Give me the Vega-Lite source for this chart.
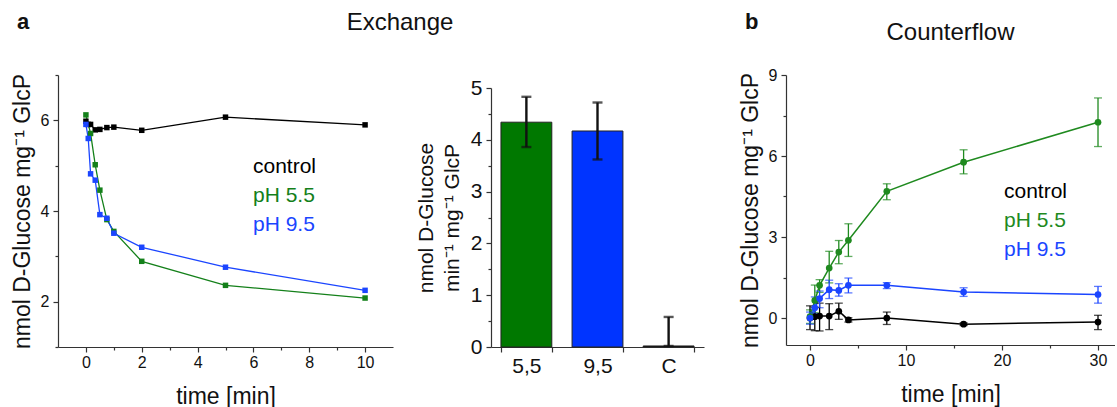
{
  "$schema": "https://vega.github.io/schema/vega-lite/v6.json",
  "autosize": {"type": "pad"},
  "padding": {"left": 11, "top": 10, "right": 0, "bottom": 0},
  "background": "white",
  "datasets": {
    "exchange": [
      {"series": "control", "t": 0, "v": 5.98},
      {"series": "control", "t": 0.083, "v": 5.91},
      {"series": "control", "t": 0.167, "v": 5.91},
      {"series": "control", "t": 0.333, "v": 5.79},
      {"series": "control", "t": 0.5, "v": 5.8},
      {"series": "control", "t": 0.75, "v": 5.84},
      {"series": "control", "t": 1, "v": 5.85},
      {"series": "control", "t": 2, "v": 5.78},
      {"series": "control", "t": 5, "v": 6.07},
      {"series": "control", "t": 10, "v": 5.9},
      {"series": "pH 5.5", "t": 0, "v": 6.12},
      {"series": "pH 5.5", "t": 0.167, "v": 5.71},
      {"series": "pH 5.5", "t": 0.333, "v": 5.02},
      {"series": "pH 5.5", "t": 0.5, "v": 4.46},
      {"series": "pH 5.5", "t": 0.75, "v": 3.81},
      {"series": "pH 5.5", "t": 1, "v": 3.55},
      {"series": "pH 5.5", "t": 2, "v": 2.89},
      {"series": "pH 5.5", "t": 5, "v": 2.36},
      {"series": "pH 5.5", "t": 10, "v": 2.08},
      {"series": "pH 9.5", "t": 0, "v": 5.91},
      {"series": "pH 9.5", "t": 0.083, "v": 5.6},
      {"series": "pH 9.5", "t": 0.167, "v": 4.82},
      {"series": "pH 9.5", "t": 0.333, "v": 4.68},
      {"series": "pH 9.5", "t": 0.5, "v": 3.92},
      {"series": "pH 9.5", "t": 0.75, "v": 3.84},
      {"series": "pH 9.5", "t": 1, "v": 3.51},
      {"series": "pH 9.5", "t": 2, "v": 3.2},
      {"series": "pH 9.5", "t": 5, "v": 2.76},
      {"series": "pH 9.5", "t": 10, "v": 2.25}
    ],
    "rates": [
      {"grp": "5,5", "rate": 4.34, "lo": 3.86, "hi": 4.83},
      {"grp": "9,5", "rate": 4.17, "lo": 3.62, "hi": 4.72},
      {"grp": "C", "rate": 0.02, "lo": 0.02, "hi": 0.58}
    ],
    "counterflow": [
      {"series": "control", "t": 0, "v": 0.0, "lo": -0.43, "hi": 0.45},
      {"series": "control", "t": 0.5, "v": 0.05, "lo": -0.47, "hi": 0.4},
      {"series": "control", "t": 1, "v": 0.07, "lo": -0.48, "hi": 0.55},
      {"series": "control", "t": 2, "v": 0.07, "lo": -0.43, "hi": 0.53},
      {"series": "control", "t": 3, "v": 0.25, "lo": -0.05, "hi": 0.55},
      {"series": "control", "t": 4, "v": -0.07, "lo": -0.15, "hi": 0.01},
      {"series": "control", "t": 8, "v": 0.0, "lo": -0.24, "hi": 0.22},
      {"series": "control", "t": 16, "v": -0.23, "lo": -0.28, "hi": -0.18},
      {"series": "control", "t": 30, "v": -0.15, "lo": -0.43, "hi": 0.1},
      {"series": "pH 5.5", "t": 0, "v": 0.05, "lo": -0.2, "hi": 0.3},
      {"series": "pH 5.5", "t": 0.5, "v": 0.65, "lo": 0.2, "hi": 1.22},
      {"series": "pH 5.5", "t": 1, "v": 1.21, "lo": 0.95, "hi": 1.42},
      {"series": "pH 5.5", "t": 2, "v": 1.85, "lo": 1.3, "hi": 2.47},
      {"series": "pH 5.5", "t": 3, "v": 2.44, "lo": 2.01, "hi": 2.87},
      {"series": "pH 5.5", "t": 4, "v": 2.88, "lo": 2.28, "hi": 3.49},
      {"series": "pH 5.5", "t": 8, "v": 4.69, "lo": 4.38, "hi": 4.97},
      {"series": "pH 5.5", "t": 16, "v": 5.77, "lo": 5.34, "hi": 6.23},
      {"series": "pH 5.5", "t": 30, "v": 7.25, "lo": 6.35, "hi": 8.15},
      {"series": "pH 9.5", "t": 0, "v": 0.0, "lo": -0.23, "hi": 0.22},
      {"series": "pH 9.5", "t": 0.5, "v": 0.38, "lo": 0.16, "hi": 0.78},
      {"series": "pH 9.5", "t": 1, "v": 0.72, "lo": 0.38, "hi": 1.0},
      {"series": "pH 9.5", "t": 2, "v": 1.05, "lo": 0.72, "hi": 1.4},
      {"series": "pH 9.5", "t": 3, "v": 1.02, "lo": 0.81, "hi": 1.27},
      {"series": "pH 9.5", "t": 4, "v": 1.21, "lo": 0.93, "hi": 1.48},
      {"series": "pH 9.5", "t": 8, "v": 1.21, "lo": 1.09, "hi": 1.31},
      {"series": "pH 9.5", "t": 16, "v": 0.96, "lo": 0.8, "hi": 1.12},
      {"series": "pH 9.5", "t": 30, "v": 0.87, "lo": 0.55, "hi": 1.17}
    ]
  },
  "title": {"text": "a", "anchor": "start", "frame": "group", "fontWeight": "bold", "fontSize": 22, "dx": -41, "offset": 0, "dy": 23},
  "spacing": 35,
  "resolve": {"scale": {"color": "independent"}, "legend": {"color": "independent"}},
  "hconcat": [
    {
      "title": {"text": "Exchange", "anchor": "middle", "frame": "group", "dx": 342, "offset": 35},
      "spacing": 22,
      "resolve": {"scale": {"color": "independent"}, "legend": {"color": "independent"}},
      "hconcat": [
        {
          "width": 335,
          "height": 272,
          "data": {"name": "exchange"},
          "layer": [
            {
              "mark": {"type": "line", "strokeWidth": 1.3},
              "encoding": {
                "x": {"field": "t", "type": "quantitative", "scale": {"domain": [-1, 11], "nice": false, "zero": false},
                      "axis": {"orient": "bottom", "values": [0, 2, 4, 6, 8, 10], "title": "time [min]"}},
                "y": {"field": "v", "type": "quantitative", "scale": {"domain": [1, 7], "nice": false, "zero": false},
                      "axis": {"orient": "left", "values": [2, 4, 6], "title": "nmol D-Glucose mg⁻¹ GlcP", "titlePadding": 6}},
                "color": {"field": "series", "type": "nominal",
                          "scale": {"domain": ["control", "pH 5.5", "pH 9.5"], "range": ["#000000", "#14801a", "#1b45ff"]},
                          "legend": {"orient": "none", "legendX": 174, "legendY": 81, "title": null, "direction": "vertical",
                                     "symbolSize": 0, "symbolStrokeWidth": 0, "symbolOpacity": 0, "labelOffset": 0,
                                     "labelFontSize": 21, "labelFont": "Liberation Sans", "rowPadding": 7, "padding": 0,
                                     "labelColor": {"expr": "datum.value == 'control' ? '#000000' : datum.value == 'pH 5.5' ? '#14801a' : '#1b45ff'"}}}
              }
            },
            {
              "mark": {"type": "point", "shape": "square", "filled": true, "size": 30, "opacity": 1},
              "encoding": {
                "x": {"field": "t", "type": "quantitative",
                      "axis": {"orient": "bottom", "values": [1, 3, 5, 7, 9], "labels": false, "domain": false, "tickSize": 3, "title": null}},
                "y": {"field": "v", "type": "quantitative",
                      "axis": {"orient": "left", "values": [1, 3, 5, 7], "labels": false, "domain": false, "tickSize": 3, "title": null}},
                "color": {"field": "series", "type": "nominal"}
              }
            }
          ],
          "resolve": {"axis": {"x": "independent", "y": "independent"}}
        },
        {
          "bounds": "flush",
          "spacing": 12,
          "vconcat": [
            {
              "width": 213,
              "height": 1,
              "data": {"values": [{}]},
              "mark": {"type": "text", "text": ""}
            },
            {
              "width": 213,
              "height": 259,
              "data": {"name": "rates"},
              "layer": [
                {
                  "mark": {"type": "bar", "stroke": "#222222", "strokeWidth": 1},
                  "encoding": {
                    "x": {"field": "grp", "type": "nominal", "sort": null,
                          "scale": {"paddingInner": 0.285, "paddingOuter": 0.14},
                          "axis": {"title": null, "labelAngle": 0, "tickBand": "extent", "labelFontSize": 21, "labelPadding": 3}},
                    "y": {"field": "rate", "type": "quantitative", "scale": {"domain": [0, 5], "nice": false},
                          "axis": {"orient": "left", "values": [0, 1, 2, 3, 4, 5], "labelFontSize": 21, "titleFontSize": 21, "titleLineHeight": 26, "titlePadding": 8,
                                   "title": ["nmol D-Glucose", "min⁻¹ mg⁻¹ GlcP"]}},
                    "color": {"field": "grp", "type": "nominal",
                              "scale": {"domain": ["5,5", "9,5", "C"], "range": ["#007800", "#0034ff", "#000000"]}, "legend": null}
                  }
                },
                {
                  "mark": {"type": "errorbar", "ticks": true, "size": 10, "thickness": 2.4, "color": "#111111"},
                  "encoding": {
                    "x": {"field": "grp", "type": "nominal", "sort": null},
                    "y": {"field": "lo", "type": "quantitative", "axis": null},
                    "y2": {"field": "hi"}
                  }
                },
                {
                  "mark": {"type": "point", "opacity": 0},
                  "encoding": {
                    "x": {"field": "grp", "type": "nominal", "sort": null},
                    "y": {"field": "rate", "type": "quantitative",
                          "axis": {"orient": "left", "values": [0.5, 1.5, 2.5, 3.5, 4.5], "labels": false, "domain": false, "tickSize": 3, "title": null}}
                  }
                }
              ],
              "resolve": {"axis": {"y": "independent"}}
            }
          ]
        }
      ]
    },
    {
      "title": {"text": "b", "anchor": "start", "frame": "group", "fontWeight": "bold", "fontSize": 22, "dx": -41, "offset": 0, "dy": 13},
      "hconcat": [
        {
          "title": {"text": "Counterflow", "anchor": "middle", "frame": "group", "offset": 22},
          "width": 329,
          "height": 270,
          "data": {"name": "counterflow"},
          "layer": [
            {
              "mark": {"type": "line", "strokeWidth": 1.5},
              "encoding": {
                "x": {"field": "t", "type": "quantitative", "scale": {"domain": [-2.5, 31.77], "nice": false, "zero": false},
                      "axis": {"orient": "bottom", "values": [0, 10, 20, 30], "title": "time [min]"}},
                "y": {"field": "v", "type": "quantitative", "scale": {"domain": [-1, 9], "nice": false, "zero": false},
                      "axis": {"orient": "left", "values": [0, 3, 6, 9], "title": "nmol D-Glucose mg⁻¹ GlcP", "titlePadding": 6}},
                "color": {"field": "series", "type": "nominal",
                          "scale": {"domain": ["control", "pH 5.5", "pH 9.5"], "range": ["#000000", "#1f8a1f", "#1b45ff"]},
                          "legend": {"orient": "none", "legendX": 197, "legendY": 106, "title": null, "direction": "vertical",
                                     "symbolSize": 0, "symbolStrokeWidth": 0, "symbolOpacity": 0, "labelOffset": 0,
                                     "labelFontSize": 21, "labelFont": "Liberation Sans", "rowPadding": 7, "padding": 0,
                                     "labelColor": {"expr": "datum.value == 'control' ? '#000000' : datum.value == 'pH 5.5' ? '#1f8a1f' : '#1b45ff'"}}}
              }
            },
            {
              "mark": {"type": "errorbar", "ticks": true, "size": 8, "thickness": 1.3},
              "encoding": {
                "x": {"field": "t", "type": "quantitative", "axis": null},
                "y": {"field": "lo", "type": "quantitative", "axis": null},
                "y2": {"field": "hi"},
                "color": {"field": "series", "type": "nominal"}
              }
            },
            {
              "mark": {"type": "point", "shape": "circle", "filled": true, "size": 45, "opacity": 1},
              "encoding": {
                "x": {"field": "t", "type": "quantitative",
                      "axis": {"orient": "bottom", "values": [5, 15, 25], "labels": false, "domain": false, "tickSize": 3, "title": null}},
                "y": {"field": "v", "type": "quantitative",
                      "axis": {"orient": "left", "values": [1.5, 4.5, 7.5], "labels": false, "domain": false, "tickSize": 3, "title": null}},
                "color": {"field": "series", "type": "nominal"}
              }
            }
          ],
          "resolve": {"axis": {"x": "independent", "y": "independent"}}
        }
      ]
    }
  ],
  "config": {
    "font": "Liberation Sans",
    "view": {"stroke": null},
    "axis": {"domainColor": "#333333", "tickColor": "#333333", "labelColor": "#111111", "titleColor": "#111111", "grid": false,
             "labelFont": "Liberation Sans", "titleFont": "Liberation Sans", "titleFontWeight": "normal",
             "labelFontSize": 16, "titleFontSize": 23, "tickSize": 5, "domainWidth": 1.2, "tickWidth": 1.2,
             "labelPadding": 4, "titlePadding": 6},
    "axisX": {"labelPadding": 2, "titlePadding": 15},
    "title": {"font": "Liberation Sans", "fontSize": 24, "fontWeight": "normal", "color": "#111111"}
  }
}
